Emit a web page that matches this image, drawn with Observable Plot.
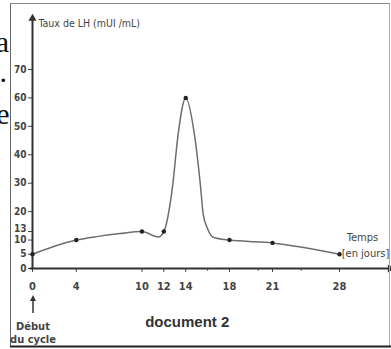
<!DOCTYPE html>
<html><head><meta charset="utf-8">
<script src="https://cdn.jsdelivr.net/npm/d3@7"></script>
<script src="https://cdn.jsdelivr.net/npm/@observablehq/plot@0.6"></script>
<style>
body{margin:0;background:#fff;}
#wrap{position:relative;width:391px;height:349px;overflow:hidden;background:#fff;}
#wrap svg{position:absolute;left:0;top:0;}
</style></head>
<body><div id="wrap"></div>
<script>
// Marked measurements (days of the cycle, LH level in mUI/mL)
const days = [0, 4, 10, 12, 14, 18, 21, 28];
const lhValues = [5, 10, 13, 13, 60, 10, 9, 5];
// Shape of the smooth curve
const curveDays = [0, 2, 4, 6, 8, 10, 11.5, 12, 12.8, 13.3, 14, 14.8, 15.35, 15.6, 16, 16.5, 18, 20.2, 21, 23.6, 28];
const curveLH   = [5, 7.8, 10, 11.3, 12.3, 13, 11.1, 13, 29, 47, 60, 47, 29, 19, 14, 11, 10, 9.3, 9, 7.7, 5];
// Axes
const xTickDays = [0, 4, 10, 12, 14, 18, 21, 28];
const xMinorDays = [16, 20, 24];
const yTickValues = [0, 5, 10, 13, 20, 30, 40, 50, 60, 70];
const xBreaks = [0, 18, 21, 28];   // the original's day axis is unevenly spaced
const xAxisEnd = 33.3;             // arrow tip of the time axis (days)
const yAxisEnd = 88;               // arrow tip of the LH axis
const yLabel = "Taux de LH (mUI /mL)";
const xLabel1 = "Temps", xLabel2 = "[en jours]";
const startLabel1 = "Début", startLabel2 = "du cycle";
const docTitle = "document 2";

const points = days.map((d, i) => ({day: d, lh: lhValues[i]}));
const curve = curveDays.map((d, i) => ({day: d, lh: curveLH[i]}));

const SANS = "'Liberation Sans', Arial, sans-serif";
const NARROW = "'Liberation Sans Narrow', 'DejaVu Sans Condensed', sans-serif";
const AX = "#333";

const chart = Plot.plot({
  width: 391, height: 349,
  marginLeft: 32, marginRight: 52, marginTop: 69, marginBottom: 81,
  style: {background: "transparent", overflow: "visible", fontFamily: SANS},
  x: {type: "linear", domain: xBreaks, range: [32, 229, 272, 339]},
  y: {domain: [0, 70]},
  marks: [
    Plot.axisY(yTickValues, {tickSize: 4, tickPadding: 2, fontSize: 10, fontFamily: NARROW, fontWeight: "bold", color: "#444", label: null,
      tickFormat: d => d === 13 ? "" : d}),
    Plot.axisY([13], {tickSize: 0, tickPadding: 6, dy: -3, fontSize: 10, fontFamily: NARROW, fontWeight: "bold", color: "#444", label: null}),
    Plot.axisX(xTickDays, {tickSize: 4, tickPadding: 10, fontSize: 11, fontFamily: NARROW, fontWeight: "bold", color: "#444", label: null}),
    Plot.axisX(xMinorDays, {tickSize: 3, tickFormat: () => "", color: "#666", label: null}),
    Plot.ruleY([0], {x1: -0.2, x2: xAxisEnd, stroke: AX, strokeWidth: 2}),
    Plot.ruleX([0], {y1: 0, y2: yAxisEnd, stroke: AX, strokeWidth: 2}),
    Plot.dot([{day: 0, lh: yAxisEnd}], {x: "day", y: "lh", symbol: "triangle", r: 3, fill: AX, stroke: null}),
    Plot.dot([{day: xAxisEnd, lh: 0}], {x: "day", y: "lh", symbol: "triangle", r: 3, rotate: 90, fill: AX, stroke: null}),
    Plot.line(curve, {x: "day", y: "lh", curve: "monotone-x", stroke: "#6e6e6e", strokeWidth: 1.5}),
    Plot.dot(points, {x: "day", y: "lh", r: 2.2, fill: "#222", stroke: null}),
    Plot.text([yLabel], {x: () => 0, y: () => yAxisEnd, dx: 6, dy: 5, textAnchor: "start", fontSize: 10.5, fontFamily: NARROW, fill: "#444"}),
    Plot.text([xLabel1], {x: () => 28, y: () => 0, dx: 23, dy: -31, fontSize: 11, fontFamily: NARROW, fill: "#444"}),
    Plot.text([xLabel2], {x: () => 28, y: () => 0, dx: 26, dy: -15, fontSize: 11, fontFamily: NARROW, fill: "#444"})
  ]
});
const wrap = document.getElementById("wrap");
wrap.appendChild(chart);

// Annotation overlay: frame, cut-off text of the page, document title, "Début du cycle"
const sx = chart.scale("x"), sy = chart.scale("y");
const x0 = sx.apply(0), y0 = sy.apply(0);
const NS = "http://www.w3.org/2000/svg";
const ov = document.createElementNS(NS, "svg");
ov.setAttribute("width", 391); ov.setAttribute("height", 349);
function el(tag, attrs, text) {
  const e = document.createElementNS(NS, tag);
  for (const k in attrs) e.setAttribute(k, attrs[k]);
  if (text != null) e.textContent = text;
  ov.appendChild(e); return e;
}
el("line", {x1: 10.5, y1: 3, x2: 10.5, y2: 346, stroke: "#666", "stroke-width": 1});
el("line", {x1: 10, y1: 3.5, x2: 390, y2: 3.5, stroke: "#888", "stroke-width": 1});
el("line", {x1: 389.5, y1: 3, x2: 389.5, y2: 346, stroke: "#aaa", "stroke-width": 1});
el("line", {x1: 10, y1: 346.5, x2: 391, y2: 346.5, stroke: "#222", "stroke-width": 2});
const serif = "'Liberation Serif', 'DejaVu Serif', serif";
el("text", {x: 9, y: 52, "text-anchor": "end", "font-family": serif, "font-size": 30, fill: "#111"}, "a");
el("text", {x: 7, y: 82, "text-anchor": "end", "font-family": serif, "font-size": 30, fill: "#111"}, ".");
el("text", {x: 9.5, y: 124, "text-anchor": "end", "font-family": serif, "font-size": 30, fill: "#111"}, "e");
el("text", {x: sx.apply(14) + 2, y: y0 + 59, "text-anchor": "middle", "font-family": SANS, "font-weight": "bold", "font-size": 15, fill: "#333"}, docTitle);
el("line", {x1: x0 + 1, y1: y0 + 45, x2: x0 + 1, y2: y0 + 31, stroke: "#333", "stroke-width": 1.5});
el("path", {d: `M${x0 + 1},${y0 + 27}l-3,6h6z`, fill: "#333"});
el("text", {x: x0 + 1, y: y0 + 62, "text-anchor": "middle", "font-family": NARROW, "font-weight": "bold", "font-size": 11, fill: "#444"}, startLabel1);
el("text", {x: x0 + 1, y: y0 + 75, "text-anchor": "middle", "font-family": NARROW, "font-weight": "bold", "font-size": 11, fill: "#444"}, startLabel2);
wrap.appendChild(ov);
</script>
</body></html>
